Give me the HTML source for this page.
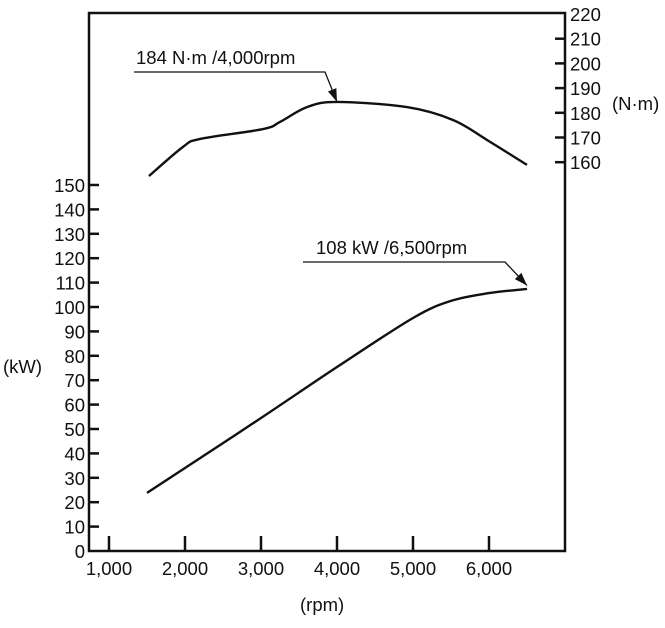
<!DOCTYPE html>
<html><head><meta charset="utf-8"><style>
html,body{margin:0;padding:0;background:#fff;}
svg text{font-family:"Liberation Sans",sans-serif;font-size:18.5px;fill:#111;}
</style></head><body>
<svg width="665" height="623" id="chart">
<rect x="89" y="13" width="476" height="538" fill="none" stroke="#111" stroke-width="2.5"/>
<g id="axes"></g>
<g id="series"></g>
<text x="3" y="373">(kW)</text>
<text x="612" y="110">(N·m)</text>
<text x="300" y="611">(rpm)</text>
<text x="136" y="64">184 N·m /4,000rpm</text>
<text x="316" y="254">108 kW /6,500rpm</text>
</svg>
<script>
const xTicks=[1000,2000,3000,4000,5000,6000];
const xTickLabels=["1,000","2,000","3,000","4,000","5,000","6,000"];
const kwTicks=[0,10,20,30,40,50,60,70,80,90,100,110,120,130,140,150];
const nmTicks=[160,170,180,190,200,210,220];
const torqueRpm=[1526,1974,2197,3026,3250,3605,4000,4921,5526,5974,6500];
const torqueNm=[154.4,166.2,169.4,173.4,176.3,182.3,184.4,182.3,177.1,169,158.9];
const powerRpm=[1500,2000,3000,4000,5000,5500,6000,6500];
const powerKw=[23.8,34,54.5,75.4,95.5,102.5,105.7,107.4];
const torquePeak=[4000,184];
const powerPeak=[6500,108];

const X=r=>109+(r-1000)*0.076;
const YL=v=>551-v*2.44;
const YR=v=>14+(220-v)*2.47;
const NS="http://www.w3.org/2000/svg";
function mk(tag,attrs,parent){const e=document.createElementNS(NS,tag);for(const k in attrs)e.setAttribute(k,attrs[k]);parent.appendChild(e);return e;}
const ax=document.getElementById('axes');
xTicks.forEach((t,i)=>{
  const l=mk('line',{x1:X(t),x2:X(t),y1:551,y2:536,stroke:'#111','stroke-width':2.5},ax);
  
  
  const tx=mk('text',{x:X(t),y:575,'text-anchor':'middle'},ax);
  tx.textContent=xTickLabels[i];
  
  
});
kwTicks.forEach(t=>{
  if(t>0){const l=mk('line',{x1:89,x2:99,y1:YL(t),y2:YL(t),stroke:'#111','stroke-width':2.5},ax);
  
  }
  const tx=mk('text',{x:85,y:YL(t)+7,'text-anchor':'end'},ax);
  tx.textContent=t;
  
  
});
nmTicks.forEach(t=>{
  if(t<220){const l=mk('line',{x1:555,x2:565,y1:YR(t),y2:YR(t),stroke:'#111','stroke-width':2.5},ax);
  
  }
  const tx=mk('text',{x:570,y:YR(t)+7},ax);
  tx.textContent=t;
  
  
});
function smooth(pts){let d='M'+pts[0][0]+','+pts[0][1];
  for(let i=0;i<pts.length-1;i++){const p0=pts[Math.max(i-1,0)],p1=pts[i],p2=pts[i+1],p3=pts[Math.min(i+2,pts.length-1)];
    d+=' C'+(p1[0]+(p2[0]-p0[0])/6)+','+(p1[1]+(p2[1]-p0[1])/6)+' '+(p2[0]-(p3[0]-p1[0])/6)+','+(p2[1]-(p3[1]-p1[1])/6)+' '+p2[0]+','+p2[1];}
  return d;}
const sg=document.getElementById('series');
const tp=mk('path',{d:smooth(torqueRpm.map((r,i)=>[X(r),YR(torqueNm[i])])),fill:'none',stroke:'#111','stroke-width':2.4},sg);


const pp=mk('path',{d:smooth(powerRpm.map((r,i)=>[X(r),YL(powerKw[i])])),fill:'none',stroke:'#111','stroke-width':2.4},sg);


function leader(x0,xb,y,px,py,name){
  const g=mk('g',{},sg);
  
  
  mk('polyline',{points:x0+','+y+' '+xb+','+y+' '+px+','+py,fill:'none',stroke:'#111','stroke-width':1.3},g);
  const dx=px-xb,dy=py-y,L=Math.hypot(dx,dy),ux=dx/L,uy=dy/L;
  const bx=px-ux*13,by=py-uy*13;
  mk('polygon',{points:px+','+py+' '+(bx-uy*4.5)+','+(by+ux*4.5)+' '+(bx+uy*4.5)+','+(by-ux*4.5),fill:'#111'},g);
}
leader(134,325,72,X(torquePeak[0]),YR(torquePeak[1])-1,'torque-leader-arrow');
leader(303,505,262,X(powerPeak[0]),YL(powerPeak[1])-2,'power-leader-arrow');
</script>
</body></html>
